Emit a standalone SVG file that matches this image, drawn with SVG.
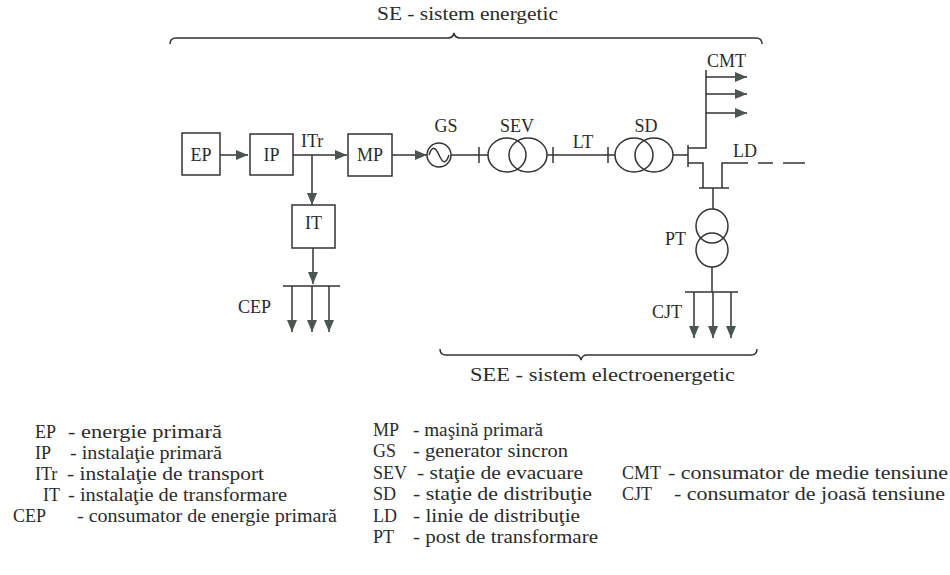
<svg xmlns="http://www.w3.org/2000/svg" width="950" height="575" viewBox="0 0 950 575">
<defs>
<style>
.t{font-size:18px;fill:#2b2b2b}
.ln{stroke:#333;stroke-width:1.5;fill:none}
.box{stroke:#333;stroke-width:1.5;fill:#fff}
.c{text-anchor:middle}
</style>
<marker id="ah" markerUnits="userSpaceOnUse" markerWidth="13" markerHeight="11" refX="12" refY="5" orient="auto">
<path d="M0,0 L12,5 L0,10 z" fill="#4c5650"/>
</marker>
</defs>
<rect width="950" height="575" fill="#fff"/>
<g font-family="'Liberation Serif', 'Times New Roman', serif" class="t">

<g id="braces">
<path class="ln" d="M170,44 Q170,38 176,38 L448,38 Q453,38 454,33 Q455,38 460,38 L756,38 Q762,38 762,44"/>
<text x="377" y="20" textLength="181" lengthAdjust="spacingAndGlyphs">SE - sistem energetic</text>
<path class="ln" d="M440,349 Q440,355 446,355 L575,355 Q580,355 581,360 Q582,355 587,355 L751,355 Q757,355 757,349"/>
<text x="470" y="381" textLength="265" lengthAdjust="spacingAndGlyphs">SEE - sistem electroenergetic</text>
</g>

<g id="connectors">
<line class="ln" x1="220" y1="155" x2="248" y2="155" marker-end="url(#ah)"/>
<line class="ln" x1="293" y1="155" x2="347" y2="155" marker-end="url(#ah)"/>
<line class="ln" x1="312" y1="155" x2="312" y2="205" marker-end="url(#ah)"/>
<line class="ln" x1="392" y1="155" x2="427" y2="155" marker-end="url(#ah)"/>
<line class="ln" x1="313" y1="248" x2="313" y2="284" marker-end="url(#ah)"/>
<line class="ln" x1="283" y1="286" x2="340" y2="286"/>
<line class="ln" x1="292" y1="286" x2="292" y2="332" marker-end="url(#ah)"/>
<line class="ln" x1="312" y1="286" x2="312" y2="332" marker-end="url(#ah)"/>
<line class="ln" x1="329" y1="286" x2="329" y2="332" marker-end="url(#ah)"/>
<line class="ln" x1="451" y1="155" x2="488" y2="155"/>
<line class="ln" x1="479" y1="147" x2="479" y2="163"/>
<line class="ln" x1="547" y1="155" x2="615" y2="155"/>
<line class="ln" x1="553" y1="147" x2="553" y2="163"/>
<line class="ln" x1="608" y1="147" x2="608" y2="163"/>
<line class="ln" x1="673" y1="155" x2="688" y2="155"/>
<line class="ln" x1="688" y1="145" x2="688" y2="167"/>
<polyline class="ln" points="688,148 706,148 706,70"/>
<line class="ln" x1="706" y1="77" x2="747" y2="77" marker-end="url(#ah)"/>
<line class="ln" x1="706" y1="94" x2="747" y2="94" marker-end="url(#ah)"/>
<line class="ln" x1="706" y1="113" x2="747" y2="113" marker-end="url(#ah)"/>
<polyline class="ln" points="688,163 703,163 703,188"/>
<line class="ln" x1="699" y1="188" x2="729" y2="188"/>
<polyline class="ln" points="722,188 722,163 748,163"/>
<line class="ln" x1="758" y1="163" x2="773" y2="163"/>
<line class="ln" x1="783" y1="163" x2="805" y2="163"/>
<line class="ln" x1="713" y1="188" x2="713" y2="209"/>
<line class="ln" x1="712" y1="267" x2="712" y2="292"/>
<line class="ln" x1="685" y1="292" x2="738" y2="292"/>
<line class="ln" x1="694" y1="292" x2="694" y2="338" marker-end="url(#ah)"/>
<line class="ln" x1="713" y1="292" x2="713" y2="338" marker-end="url(#ah)"/>
<line class="ln" x1="731" y1="292" x2="731" y2="338" marker-end="url(#ah)"/>
</g>

<g id="EP"><rect class="box" x="182" y="133" width="38" height="42"/><text class="c" x="201" y="161">EP</text></g>
<g id="IP"><rect class="box" x="250" y="134" width="43" height="41"/><text class="c" x="271.5" y="161">IP</text></g>
<g id="ITr"><text x="301" y="147">ITr</text></g>
<g id="MP"><rect class="box" x="348" y="134" width="44" height="42"/><text class="c" x="370" y="161">MP</text></g>
<g id="IT"><rect class="box" x="292" y="205" width="43" height="43"/><text class="c" x="313.5" y="229">IT</text></g>
<g id="CEP"><text x="238" y="313">CEP</text></g>
<g id="GS">
<circle class="ln" cx="439" cy="155" r="12"/>
<path class="ln" d="M429,155 C432,146 435,146 439,155 C443,164 446,164 449,155"/>
<text class="c" x="446" y="132">GS</text>
</g>
<g id="SEV">
<ellipse class="ln" cx="507" cy="155" rx="19" ry="17"/>
<ellipse class="ln" cx="528" cy="155" rx="19" ry="17"/>
<text class="c" x="517" y="132">SEV</text>
</g>
<g id="LT"><text class="c" x="583" y="148">LT</text></g>
<g id="SD">
<ellipse class="ln" cx="634" cy="155" rx="19" ry="17"/>
<ellipse class="ln" cx="654" cy="155" rx="19" ry="17"/>
<text class="c" x="646" y="132">SD</text>
</g>
<g id="CMT"><text x="707" y="67">CMT</text></g>
<g id="LD"><text x="733" y="157">LD</text></g>
<g id="PT">
<ellipse class="ln" cx="712" cy="226" rx="16" ry="17"/>
<ellipse class="ln" cx="712" cy="250" rx="16" ry="17"/>
<text x="665" y="245">PT</text>
</g>
<g id="CJT"><text x="652" y="318">CJT</text></g>

<g id="legend">
<text x="35" y="438">EP</text><text x="68" y="438" textLength="154" lengthAdjust="spacingAndGlyphs">- energie primară</text>
<text x="35" y="459">IP</text><text x="70" y="459" textLength="152" lengthAdjust="spacingAndGlyphs">- instalaţie primară</text>
<text x="35" y="480">ITr</text><text x="67" y="480" textLength="197" lengthAdjust="spacingAndGlyphs">- instalaţie de transport</text>
<text x="43" y="501">IT</text><text x="68" y="501" textLength="219" lengthAdjust="spacingAndGlyphs">- instalaţie de transformare</text>
<text x="13" y="522">CEP</text><text x="77" y="522" textLength="260" lengthAdjust="spacingAndGlyphs">- consumator de energie primară</text>

<text x="373" y="436">MP</text><text x="413" y="436" textLength="130" lengthAdjust="spacingAndGlyphs">- maşină primară</text>
<text x="373" y="457">GS</text><text x="413" y="457" textLength="155" lengthAdjust="spacingAndGlyphs">- generator sincron</text>
<text x="373" y="479">SEV</text><text x="417" y="479" textLength="166" lengthAdjust="spacingAndGlyphs">- staţie de evacuare</text>
<text x="373" y="500">SD</text><text x="413" y="500" textLength="179" lengthAdjust="spacingAndGlyphs">- staţie de distribuţie</text>
<text x="373" y="522">LD</text><text x="413" y="522" textLength="167" lengthAdjust="spacingAndGlyphs">- linie de distribuţie</text>
<text x="373" y="543">PT</text><text x="413" y="543" textLength="185" lengthAdjust="spacingAndGlyphs">- post de transformare</text>

<text x="622" y="479">CMT</text><text x="668" y="479" textLength="280" lengthAdjust="spacingAndGlyphs">- consumator de medie tensiune</text>
<text x="622" y="500">CJT</text><text x="674" y="500" textLength="271" lengthAdjust="spacingAndGlyphs">- consumator de joasă tensiune</text>
</g>
</g>
</svg>
